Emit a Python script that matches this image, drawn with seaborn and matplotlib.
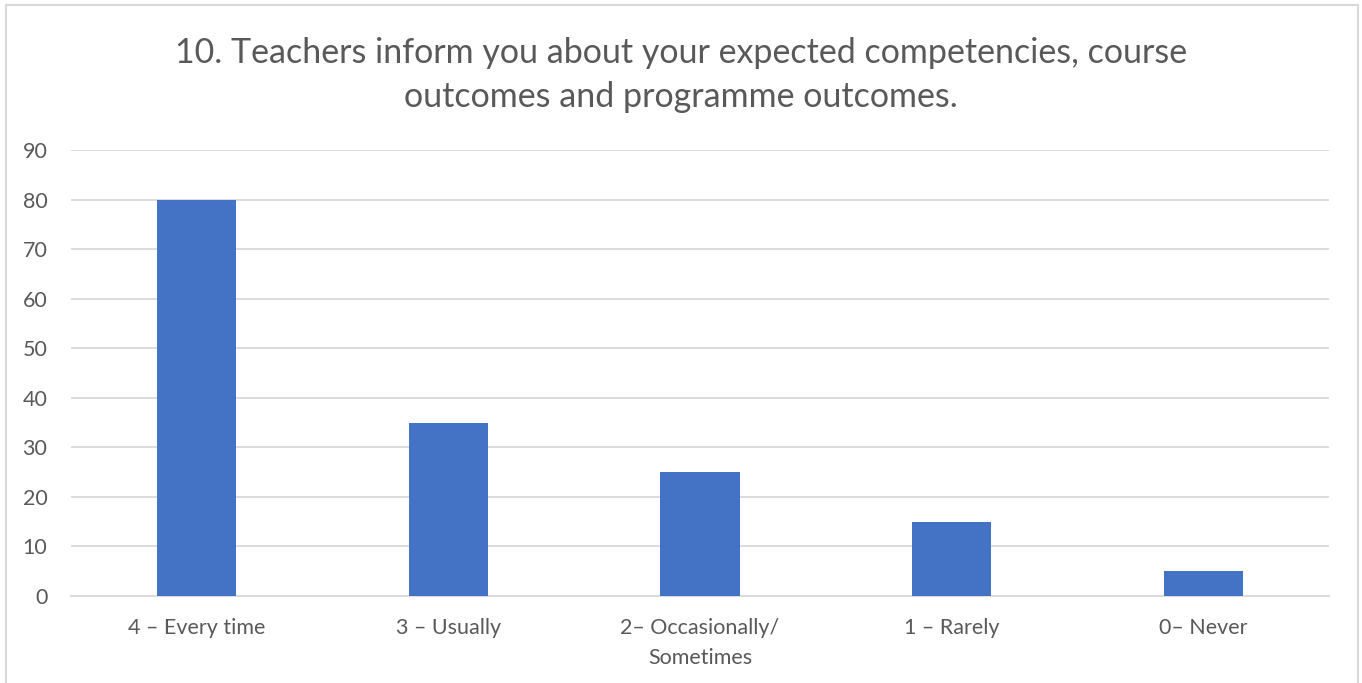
import matplotlib
matplotlib.use("Agg")
import matplotlib.pyplot as plt
import seaborn as sns
import pandas as pd

# Chart data
categories = ["4 – Every time", "3 – Usually", "2– Occasionally/\nSometimes", "1 – Rarely", "0– Never"]
counts = [80, 35, 25, 15, 5]
y_ticks = [0, 10, 20, 30, 40, 50, 60, 70, 80, 90]
title = "10. Teachers inform you about your expected competencies, course\noutcomes and programme outcomes."

df = pd.DataFrame({"category": categories, "count": counts})

sns.set_theme(style="white")
plt.rcParams["font.family"] = ["Lato", "DejaVu Sans"]

text_color = "#595959"
grid_color = "#d9d9d9"

fig = plt.figure(figsize=(13.62, 6.83), dpi=100)
ax = fig.add_axes([0.0521, 0.1274, 0.9237, 0.653])

sns.barplot(data=df, x="category", y="count", color="#4472c4", width=0.314,
            saturation=1, linewidth=0, ax=ax, zorder=3)

ax.set_ylim(0, 90)
ax.set_yticks(y_ticks)
ax.set_xlim(-0.5, len(categories) - 0.5)
ax.yaxis.grid(True, color=grid_color, linewidth=1.3, zorder=0)
ax.set_axisbelow(True)
for s in ["top", "right", "left"]:
    ax.spines[s].set_visible(False)
ax.spines["bottom"].set_color(grid_color)
ax.spines["bottom"].set_linewidth(1.3)
ax.set_xlabel("")
ax.set_ylabel("")
ax.tick_params(axis="both", length=0, labelsize=15.5, labelcolor=text_color)
ax.tick_params(axis="y", pad=17)
ax.tick_params(axis="x", pad=16)
for lbl in ax.get_xticklabels():
    lbl.set_linespacing(1.6)

fig.text(0.5, 0.89, title, ha="center", va="center", fontsize=24.5,
         color=text_color, linespacing=1.45)

# chart border (bottom edge falls off the picture)
border = dict(color="#d9d9d9", linewidth=1.5, transform=fig.transFigure)
fig.add_artist(plt.Line2D([0.0044, 0.0044], [0, 0.993], **border))
fig.add_artist(plt.Line2D([0.0044, 0.997], [0.993, 0.993], **border))
fig.add_artist(plt.Line2D([0.997, 0.997], [0, 0.993], **border))

fig.savefig("out.png", dpi=100)
